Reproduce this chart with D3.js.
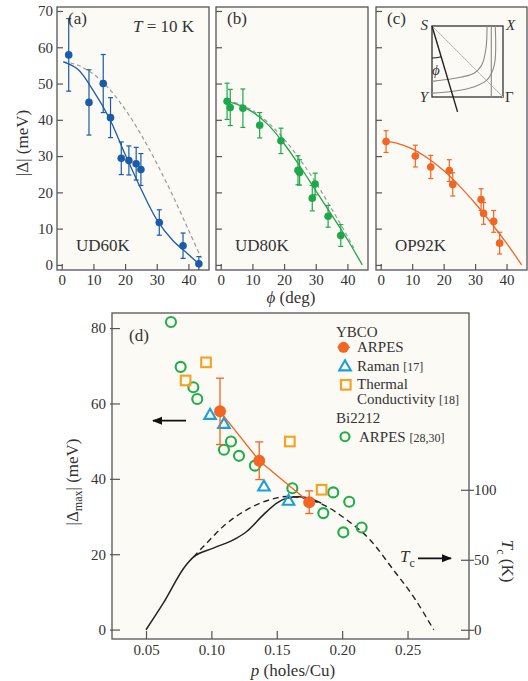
<!DOCTYPE html>
<html>
<head>
<meta charset="utf-8">
<script src="https://cdn.jsdelivr.net/npm/d3@7"></script>
<style>
body { margin: 0; background: #fff; }
svg text { font-family: "Liberation Serif", "Times New Roman", serif; fill: #333; }
</style>
</head>
<body>
<script>
// ---- data: top panels (phi in deg, gap in meV) ----
const phiTicks = [0, 10, 20, 30, 40];
const gapTicks = [0, 10, 20, 30, 40, 50, 60, 70];

const phiA = [2.2, 8.6, 13.1, 15.4, 18.8, 21.2, 23.5, 25.0, 30.8, 38.3, 43.3];
const gapA = [57.9, 44.8, 50.0, 40.6, 29.4, 28.8, 27.9, 26.3, 11.7, 5.3, 0.3];
const errA = [10, 9, 8, 5.5, 4.5, 4, 4.5, 4.4, 3.5, 3.5, 2];
const fitPhiA = [0.5, 5, 10, 15, 20, 25, 30, 35, 40, 43.3];
const fitGapA = [56, 54, 48, 40.5, 30.5, 21, 12.5, 6.8, 2.9, 0.3];
const dashPhiA = [0.5, 5, 10, 15, 20, 25, 30, 35, 40, 44];
const dashGapA = [56, 55.1, 52.6, 48.5, 42.9, 36, 28, 19.2, 9.7, 2];

const phiB = [2.0, 3.0, 7.0, 12.3, 19.0, 24.4, 24.9, 29.8, 28.9, 33.9, 37.9];
const gapB = [45.1, 43.4, 43.2, 38.5, 34.2, 26.1, 25.5, 22.3, 18.4, 13.4, 8.1];
const errB = [5, 5, 5.3, 3.5, 3.5, 4, 3.5, 3, 3.5, 3, 3];
const fitPhiB = [2, 5, 10, 15, 20, 25, 30, 35, 40, 44.7];
const fitGapB = [45, 44.3, 42.2, 38.6, 33.4, 27.2, 20.5, 13.8, 7, 0];
const dashPhiB = [2, 5, 10, 15, 20, 25, 30, 35, 40, 42];
const dashGapB = [45.2, 44.6, 42.6, 39.2, 34.7, 29.1, 22.7, 15.5, 7.9, 4.7];

const phiC = [1.7, 11.0, 15.9, 21.8, 22.9, 31.9, 32.7, 35.9, 37.8];
const gapC = [34, 30, 27, 26, 22.2, 18, 14.2, 12, 6];
const errC = [3, 3, 3.2, 3, 3.2, 3, 3, 3, 3];
const fitPhiC = [1.7, 5, 10, 15, 20, 25, 30, 35, 40, 44.8];
const fitGapC = [34, 33.6, 32, 29.4, 26, 21.8, 17, 11.7, 6, 0];

// ---- data: panel (d) ----
const pTicks = [0.05, 0.10, 0.15, 0.20, 0.25];
const dTicks = [0, 20, 40, 60, 80];
const tcTicks = [0, 50, 100];

const arpesP = [0.1066, 0.1366, 0.1748];
const arpesGap = [57.9, 44.8, 33.8];
const arpesErr = [8.8, 5, 3];
const ramanP = [0.099, 0.1096, 0.1402, 0.159];
const ramanGap = [56.8, 54.4, 37.8, 34.0];
const thermP = [0.0803, 0.0959, 0.160, 0.1843];
const thermGap = [66.1, 70.9, 49.9, 37.1];
const biP = [0.0691, 0.0765, 0.0862, 0.0892, 0.1096, 0.115, 0.1211, 0.1333, 0.1619, 0.1856, 0.1932, 0.2009, 0.2054, 0.2149];
const biGap = [81.6, 69.7, 64.3, 61.2, 47.7, 49.9, 46.1, 43.5, 37.5, 30.9, 36.4, 25.8, 33.9, 27.1];

const tcSolidP = [0.05, 0.0632, 0.0798, 0.0862, 0.1015, 0.1193, 0.127, 0.1397, 0.15, 0.1576, 0.167, 0.1754, 0.184];
const tcSolidT = [0, 19, 45.2, 51.9, 58.3, 65.5, 70.2, 82.1, 90.5, 94, 95, 93.8, 90.5];
const tcDashP = [0.0862, 0.0964, 0.109, 0.127, 0.1448, 0.1576, 0.17, 0.1856, 0.2034, 0.2213, 0.2391, 0.2544, 0.27];
const tcDashT = [51.9, 61.9, 73.8, 85.7, 92.9, 95.2, 94, 89.3, 78.6, 64.3, 42.9, 23.8, 0];

const W = 528, H = 681;
const bg = "#fbfaf5", frame = "#555";
const serif = '"Liberation Serif", "Times New Roman", serif';
const zip = (a, b) => a.map((v, i) => [v, b[i]]);

let svg = d3.select("body").append("svg")
    .attr("width", W)
    .attr("height", H);

// axis styling shared by all panels
function styleAxis(a) {
    a.select(".domain").remove();
    a.selectAll("line").attr("stroke", frame).attr("stroke-width", 1.2);
    a.selectAll("text").attr("font-size", 15).style("font-family", serif).attr("fill", "#333");
}

// ---------- top panels ----------
const topY = 7, botY = 270;
let yGap = d3.scaleLinear().domain([-1.4, 71.1]).range([botY, topY]);

const panels = [
    {left: 57, right: 209, color: "#1a5ca8", phi: phiA, gap: gapA, err: errA,
     fit: zip(fitPhiA, fitGapA), dash: zip(dashPhiA, dashGapA), tag: "(a)", name: "UD60K"},
    {left: 216, right: 368, color: "#1ea84b", phi: phiB, gap: gapB, err: errB,
     fit: zip(fitPhiB, fitGapB), dash: zip(dashPhiB, dashGapB), tag: "(b)", name: "UD80K"},
    {left: 376, right: 527, color: "#f26522", phi: phiC, gap: gapC, err: errC,
     fit: zip(fitPhiC, fitGapC), dash: null, tag: "(c)", name: "OP92K"}
];

panels.forEach(function(p, i) {
    let x = d3.scaleLinear().domain([-1.5, 46.5]).range([p.left, p.right]);
    let g = svg.append("g");

    g.append("rect")
        .attr("x", p.left).attr("y", topY)
        .attr("width", p.right - p.left).attr("height", botY - topY)
        .attr("fill", bg);

    g.append("g")
        .attr("transform", `translate(${p.left},0)`)
        .call(d3.axisLeft(yGap).tickValues(gapTicks).tickSize(-6).tickPadding(4)
            .tickFormat(i === 0 ? d3.format("d") : () => ""))
        .call(styleAxis);

    g.append("g")
        .attr("transform", `translate(0,${botY})`)
        .call(d3.axisBottom(x).tickValues(phiTicks).tickSize(-6).tickPadding(4))
        .call(styleAxis);

    let line = d3.line().x(d => x(d[0])).y(d => yGap(d[1])).curve(d3.curveCatmullRom);

    if (p.dash) {
        g.append("path").datum(p.dash)
            .attr("d", line)
            .attr("fill", "none").attr("stroke", "#9a9a9a")
            .attr("stroke-width", 1.2).attr("stroke-dasharray", "4,3");
    }
    g.append("path").datum(p.fit)
        .attr("d", line)
        .attr("fill", "none").attr("stroke", p.color).attr("stroke-width", 1.3);

    let pts = p.phi.map((v, k) => ({phi: v, gap: p.gap[k], err: p.err[k]}));
    let eb = g.selectAll(".eb").data(pts).enter().append("g");
    eb.append("line")
        .attr("x1", d => x(d.phi)).attr("x2", d => x(d.phi))
        .attr("y1", d => yGap(d.gap + d.err)).attr("y2", d => yGap(Math.max(d.gap - d.err, -1.4)))
        .attr("stroke", p.color).attr("stroke-width", 1.2);
    [1, -1].forEach(s => {
        eb.append("line")
            .attr("x1", d => x(d.phi) - 2.5).attr("x2", d => x(d.phi) + 2.5)
            .attr("y1", d => yGap(d.gap + s * d.err)).attr("y2", d => yGap(d.gap + s * d.err))
            .attr("stroke", p.color).attr("stroke-width", 1.2)
            .attr("display", d => (d.gap - d.err < 0 && s < 0) ? "none" : null);
    });
    g.selectAll(".dot").data(pts).enter().append("circle")
        .attr("cx", d => x(d.phi)).attr("cy", d => yGap(d.gap))
        .attr("r", 3.8).attr("fill", p.color);

    g.append("rect")
        .attr("x", p.left).attr("y", topY)
        .attr("width", p.right - p.left).attr("height", botY - topY)
        .attr("fill", "none").attr("stroke", frame).attr("stroke-width", 1.3);

    g.append("text").attr("x", p.left + 11).attr("y", 24).attr("font-size", 17).text(p.tag);
    g.append("text").attr("x", p.left + 19).attr("y", 250.5).attr("font-size", 17).text(p.name);
});

// T = 10 K
let tlabel = svg.append("text").attr("x", 133).attr("y", 32).attr("font-size", 17);
tlabel.append("tspan").attr("font-style", "italic").text("T");
tlabel.append("tspan").text(" = 10 K");

// axis titles, top
svg.append("text")
    .attr("transform", "translate(28,143) rotate(-90)")
    .attr("text-anchor", "middle").attr("font-size", 17)
    .text("|Δ| (meV)");
let phiTitle = svg.append("text").attr("x", 291).attr("y", 303)
    .attr("text-anchor", "middle").attr("font-size", 17);
phiTitle.append("tspan").attr("font-style", "italic").text("ϕ");
phiTitle.append("tspan").text(" (deg)");

// inset in panel (c)
const insetU = [0, 1], insetV = [0, 1];
const fsInner = [[0.775, 0], [0.76, 0.316], [0.70, 0.55], [0.586, 0.67], [0.30, 0.74], [0, 0.78]];
const fsOuter = [[0.89, 0], [0.877, 0.55], [0.775, 0.76], [0.586, 0.86], [0.30, 0.92], [0, 0.945]];
const fsChain = [[0.835, 0], [0.835, 1]];
let iu = d3.scaleLinear().domain(insetU).range([432, 503]);
let iv = d3.scaleLinear().domain(insetV).range([26, 97]);
let ig = svg.append("g");
ig.append("rect").attr("x", iu(0)).attr("y", iv(0))
    .attr("width", iu(1) - iu(0)).attr("height", iv(1) - iv(0))
    .attr("fill", bg).attr("stroke", "#333").attr("stroke-width", 1.3);
let iline = d3.line().x(d => iu(d[0])).y(d => iv(d[1])).curve(d3.curveCatmullRom);
ig.append("path").datum([[0, 0], [1, 1]]).attr("d", iline)
    .attr("stroke", "#bbb").attr("stroke-width", 1).attr("fill", "none");
[fsInner, fsOuter, fsChain].forEach(c => {
    ig.append("path").datum(c).attr("d", iline)
        .attr("stroke", "#8a8a8a").attr("stroke-width", 1.1).attr("fill", "none");
});
ig.append("path").datum([[0, 0], [0.36, 1.21]]).attr("d", iline)
    .attr("stroke", "#222").attr("stroke-width", 1.4).attr("fill", "none");
let ang = 16.6 * Math.PI / 180, rad = 32;
ig.append("path")
    .attr("d", `M${iu(0)},${iv(0) + rad} A${rad},${rad} 0 0 0 ${iu(0) + rad * Math.sin(ang)},${iv(0) + rad * Math.cos(ang)}`)
    .attr("stroke", "#222").attr("stroke-width", 1.1).attr("fill", "none");
ig.append("text").attr("x", 436).attr("y", 75).attr("font-size", 15)
    .attr("font-style", "italic").attr("text-anchor", "middle").text("ϕ");
ig.append("text").attr("x", 428).attr("y", 30).attr("font-size", 15).attr("font-style", "italic").attr("text-anchor", "end").text("S");
ig.append("text").attr("x", 506).attr("y", 30).attr("font-size", 15).attr("font-style", "italic").text("X");
ig.append("text").attr("x", 428).attr("y", 102).attr("font-size", 15).attr("font-style", "italic").attr("text-anchor", "end").text("Y");
ig.append("text").attr("x", 505).attr("y", 102).attr("font-size", 15).text("Γ");

// ---------- panel (d) ----------
const dL = 112, dR = 469, dT = 313, dB = 639;
let xP = d3.scaleLinear().domain([0.024, 0.297]).range([dL, dR]);
let yD = d3.scaleLinear().domain([-2.5, 84]).range([dB, dT]);
let yT = d3.scaleLinear().domain([-6.6, 226.3]).range([dB, dT]);

let gd = svg.append("g");
gd.append("rect").attr("x", dL).attr("y", dT).attr("width", dR - dL).attr("height", dB - dT).attr("fill", bg);

gd.append("g")
    .attr("transform", `translate(${dL},0)`)
    .call(d3.axisLeft(yD).tickValues(dTicks).tickSize(-8).tickPadding(6).tickFormat(d3.format("d")))
    .call(styleAxis)
    .call(a => a.selectAll("line").attr("x1", -2));

gd.append("g")
    .attr("transform", `translate(${dR},0)`)
    .call(d3.axisRight(yT).tickValues(tcTicks).tickSize(5).tickPadding(0).tickFormat(d3.format("d")))
    .call(styleAxis)
    .call(a => a.selectAll("line").attr("x1", -8));

gd.append("g")
    .attr("transform", `translate(0,${dB})`)
    .call(d3.axisBottom(xP).tickValues(pTicks).tickSize(-8).tickPadding(5).tickFormat(d3.format(".2f")))
    .call(styleAxis);

// Tc curves
let tcLine = d3.line().x(d => xP(d[0])).y(d => yT(d[1])).curve(d3.curveMonotoneX);
gd.append("path").datum(zip(tcDashP, tcDashT)).attr("d", tcLine)
    .attr("fill", "none").attr("stroke", "#222").attr("stroke-width", 1.4).attr("stroke-dasharray", "6,4");
gd.append("path").datum(zip(tcSolidP, tcSolidT)).attr("d", tcLine)
    .attr("fill", "none").attr("stroke", "#222").attr("stroke-width", 1.5);

const cOrange = "#f26522", cCyan = "#1aa0d8", cAmber = "#f4a21f", cGreen = "#22ad4b";

// Bi2212 ARPES
gd.selectAll(".bi").data(zip(biP, biGap)).enter().append("circle")
    .attr("cx", d => xP(d[0])).attr("cy", d => yD(d[1])).attr("r", 5)
    .attr("fill", "none").attr("stroke", cGreen).attr("stroke-width", 2.1);

// thermal conductivity
gd.selectAll(".th").data(zip(thermP, thermGap)).enter().append("rect")
    .attr("x", d => xP(d[0]) - 4.8).attr("y", d => yD(d[1]) - 4.8)
    .attr("width", 9.6).attr("height", 9.6)
    .attr("fill", "none").attr("stroke", cAmber).attr("stroke-width", 2.1);

// Raman
let tri = d3.symbol(d3.symbolTriangle, 58);
gd.selectAll(".ra").data(zip(ramanP, ramanGap)).enter().append("path")
    .attr("d", tri).attr("transform", d => `translate(${xP(d[0])},${yD(d[1])})`)
    .attr("fill", "none").attr("stroke", cCyan).attr("stroke-width", 2.1);

// YBCO ARPES
let arpes = arpesP.map((v, k) => ({p: v, gap: arpesGap[k], err: arpesErr[k]}));
gd.append("path").datum(arpes)
    .attr("d", d3.line().x(d => xP(d.p)).y(d => yD(d.gap)))
    .attr("fill", "none").attr("stroke", cOrange).attr("stroke-width", 1.3);
gd.selectAll(".aeb").data(arpes).enter().append("line")
    .attr("x1", d => xP(d.p)).attr("x2", d => xP(d.p))
    .attr("y1", d => yD(d.gap + d.err)).attr("y2", d => yD(d.gap - d.err))
    .attr("stroke", cOrange).attr("stroke-width", 1.3);
[1, -1].forEach(s => {
    gd.selectAll(".acap" + s).data(arpes).enter().append("line")
        .attr("x1", d => xP(d.p) - 4).attr("x2", d => xP(d.p) + 4)
        .attr("y1", d => yD(d.gap + s * d.err)).attr("y2", d => yD(d.gap + s * d.err))
        .attr("stroke", cOrange).attr("stroke-width", 1.3);
});
gd.selectAll(".adot").data(arpes).enter().append("circle")
    .attr("cx", d => xP(d.p)).attr("cy", d => yD(d.gap)).attr("r", 6)
    .attr("fill", cOrange);

gd.append("rect").attr("x", dL).attr("y", dT).attr("width", dR - dL).attr("height", dB - dT)
    .attr("fill", "none").attr("stroke", frame).attr("stroke-width", 1.3);

gd.append("text").attr("x", 129).attr("y", 341).attr("font-size", 17).text("(d)");

// arrows
svg.append("defs").append("marker")
    .attr("id", "head").attr("viewBox", "0 0 10 10").attr("refX", 9).attr("refY", 5)
    .attr("markerWidth", 10).attr("markerHeight", 10).attr("markerUnits", "userSpaceOnUse")
    .attr("orient", "auto")
    .append("path").attr("d", "M0,1 L10,5 L0,9 Z").attr("fill", "#111");
svg.append("line").attr("x1", 186).attr("y1", 420.7).attr("x2", 153).attr("y2", 420.7)
    .attr("stroke", "#111").attr("stroke-width", 1.8).attr("marker-end", "url(#head)");
svg.append("line").attr("x1", 418).attr("y1", 558.3).attr("x2", 451).attr("y2", 558.3)
    .attr("stroke", "#111").attr("stroke-width", 1.8).attr("marker-end", "url(#head)");
let tcT = svg.append("text").attr("x", 400).attr("y", 562).attr("font-size", 17);
tcT.append("tspan").attr("font-style", "italic").text("T");
tcT.append("tspan").attr("font-size", 12).attr("dy", 5).text("c");

// axis titles (d)
let ylab = svg.append("text")
    .attr("transform", "translate(78,482) rotate(-90)")
    .attr("text-anchor", "middle").attr("font-size", 17);
ylab.append("tspan").text("|Δ");
ylab.append("tspan").attr("font-size", 12).attr("dy", 4).text("max");
ylab.append("tspan").attr("dy", -4).text("| (meV)");

let rlab = svg.append("text")
    .attr("transform", "translate(502,561) rotate(90)")
    .attr("text-anchor", "middle").attr("font-size", 17);
rlab.append("tspan").attr("font-style", "italic").text("T");
rlab.append("tspan").attr("font-size", 12).attr("dy", 5).text("c");
rlab.append("tspan").attr("dy", -5).text(" (K)");

let xlab = svg.append("text").attr("x", 293).attr("y", 676)
    .attr("text-anchor", "middle").attr("font-size", 17);
xlab.append("tspan").attr("font-style", "italic").text("p");
xlab.append("tspan").text(" (holes/Cu)");

// legend
let lg = svg.append("g").attr("font-size", 15);
lg.append("text").attr("x", 336).attr("y", 337).text("YBCO");
lg.append("line").attr("x1", 337.5).attr("x2", 350).attr("y1", 347.3).attr("y2", 347.3)
    .attr("stroke", cOrange).attr("stroke-width", 1.3);
lg.append("circle").attr("cx", 343.5).attr("cy", 347.3).attr("r", 5.5).attr("fill", cOrange);
lg.append("text").attr("x", 357).attr("y", 352).text("ARPES");
lg.append("path").attr("d", tri).attr("transform", "translate(345,367)")
    .attr("fill", "none").attr("stroke", cCyan).attr("stroke-width", 2.1);
let lr = lg.append("text").attr("x", 357).attr("y", 371);
lr.append("tspan").text("Raman ");
lr.append("tspan").attr("font-size", 12).text("[17]");
lg.append("rect").attr("x", 341).attr("y", 380).attr("width", 9.6).attr("height", 9.6)
    .attr("fill", "none").attr("stroke", cAmber).attr("stroke-width", 2.1);
lg.append("text").attr("x", 357).attr("y", 389).text("Thermal");
let lc = lg.append("text").attr("x", 357).attr("y", 404);
lc.append("tspan").text("Conductivity ");
lc.append("tspan").attr("font-size", 12).text("[18]");
lg.append("text").attr("x", 336).attr("y", 423).text("Bi2212");
lg.append("circle").attr("cx", 345).attr("cy", 436.7).attr("r", 4.5)
    .attr("fill", "none").attr("stroke", cGreen).attr("stroke-width", 2.1);
let lb = lg.append("text").attr("x", 359).attr("y", 441.5);
lb.append("tspan").text("ARPES ");
lb.append("tspan").attr("font-size", 12).text("[28,30]");
</script>
</body>
</html>
